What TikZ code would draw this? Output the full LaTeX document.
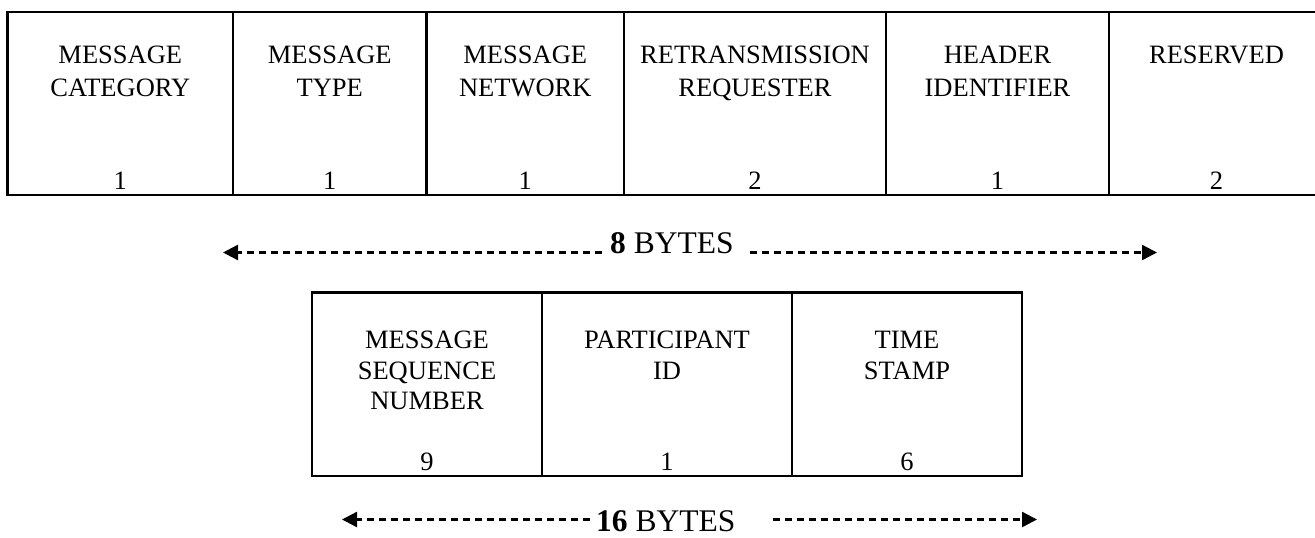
\documentclass[tikz,border=0pt]{standalone}
\usepackage{fontspec}
\setmainfont{Liberation Serif}
\usetikzlibrary{arrows.meta}
\begin{document}
\begin{tikzpicture}[x=1pt,y=-1pt,
  cell/.style={draw, line width=2.5pt, inner sep=0pt, outer sep=0pt},
  topcell/.style={cell, minimum height=183pt},
  botcell/.style={cell, minimum height=183.3pt},
  toplbl/.style={anchor=north, inner sep=0pt, align=center, font=\fontsize{26.5}{32.5}\selectfont, yshift=-34pt},
  botlbl/.style={anchor=north, inner sep=0pt, align=center, font=\fontsize{26.5}{30.5}\selectfont, yshift=-38.5pt},
  numlbl/.style={anchor=base, inner sep=0pt, font=\fontsize{26.5}{30}\selectfont},
  bytelbl/.style={anchor=base west, inner sep=0pt, font=\fontsize{31.5}{36}\selectfont},
  dasharrow/.style={line width=2.4pt, dash pattern=on 7pt off 5pt, -{Triangle[length=15pt,width=15pt]}}
]
\useasboundingbox (0,0) rectangle (1315,538);

% top table
\node[topcell, minimum width=225.4pt] (c1) at (120.3,103.5) {};
\node[topcell, minimum width=193.5pt] (c2) at (329.75,103.5) {};
\node[topcell, minimum width=197.5pt] (c3) at (525.25,103.5) {};
\node[topcell, minimum width=262pt]   (c4) at (755,103.5) {};
\node[topcell, minimum width=223pt]   (c5) at (997.5,103.5) {};
\node[topcell, minimum width=215pt]   (c6) at (1216.5,103.5) {};

\node[toplbl] (t1) at (c1.north) {MESSAGE\\CATEGORY};
\node[toplbl] (t2) at (c2.north) {MESSAGE\\TYPE};
\node[toplbl] (t3) at (c3.north) {MESSAGE\\NETWORK};
\node[toplbl] (t4) at (c4.north) {RETRANSMISSION\\REQUESTER};
\node[toplbl] (t5) at (c5.north) {HEADER\\IDENTIFIER};
\node[toplbl] (t6) at (c6.north) {RESERVED};

\node[numlbl] (n1) at ([yshift=6pt]c1.south) {1};
\node[numlbl] (n2) at ([yshift=6pt]c2.south) {1};
\node[numlbl] (n3) at ([yshift=6pt]c3.south) {1};
\node[numlbl] (n4) at ([yshift=6pt]c4.south) {2};
\node[numlbl] (n5) at ([yshift=6pt]c5.south) {1};
\node[numlbl] (n6) at ([yshift=6pt]c6.south) {2};

% 8 bytes
\node[bytelbl] (b8) at (610,253) {\textbf{8} BYTES};
\coordinate (l8) at (223,252.5);
\coordinate (r8) at (1157,252.5);
\draw[dasharrow] ([xshift=-8pt,yshift=0.5pt]b8.base west) -- (l8);
\draw[dasharrow] ([xshift=16pt,yshift=0.5pt]b8.base east) -- (r8);

% bottom table
\node[botcell, minimum width=230pt] (d1) at (427,384.35) {};
\node[botcell, minimum width=250pt] (d2) at (667,384.35) {};
\node[botcell, minimum width=230pt] (d3) at (907,384.35) {};

\node[botlbl] (s1) at (d1.north) {MESSAGE\\SEQUENCE\\NUMBER};
\node[botlbl] (s2) at (d2.north) {PARTICIPANT\\ID};
\node[botlbl] (s3) at (d3.north) {TIME\\STAMP};

\node[numlbl] (m1) at ([yshift=6pt]d1.south) {9};
\node[numlbl] (m2) at ([yshift=6pt]d2.south) {1};
\node[numlbl] (m3) at ([yshift=6pt]d3.south) {6};

% 16 bytes
\node[bytelbl] (b16) at (596,531.5) {\textbf{16} BYTES};
\coordinate (l16) at (342,519.5);
\coordinate (r16) at (1037,519.5);
\draw[dasharrow] ([xshift=-6pt,yshift=12pt]b16.base west) -- (l16);
\draw[dasharrow] ([xshift=37pt,yshift=12pt]b16.base east) -- (r16);
\end{tikzpicture}
\end{document}
